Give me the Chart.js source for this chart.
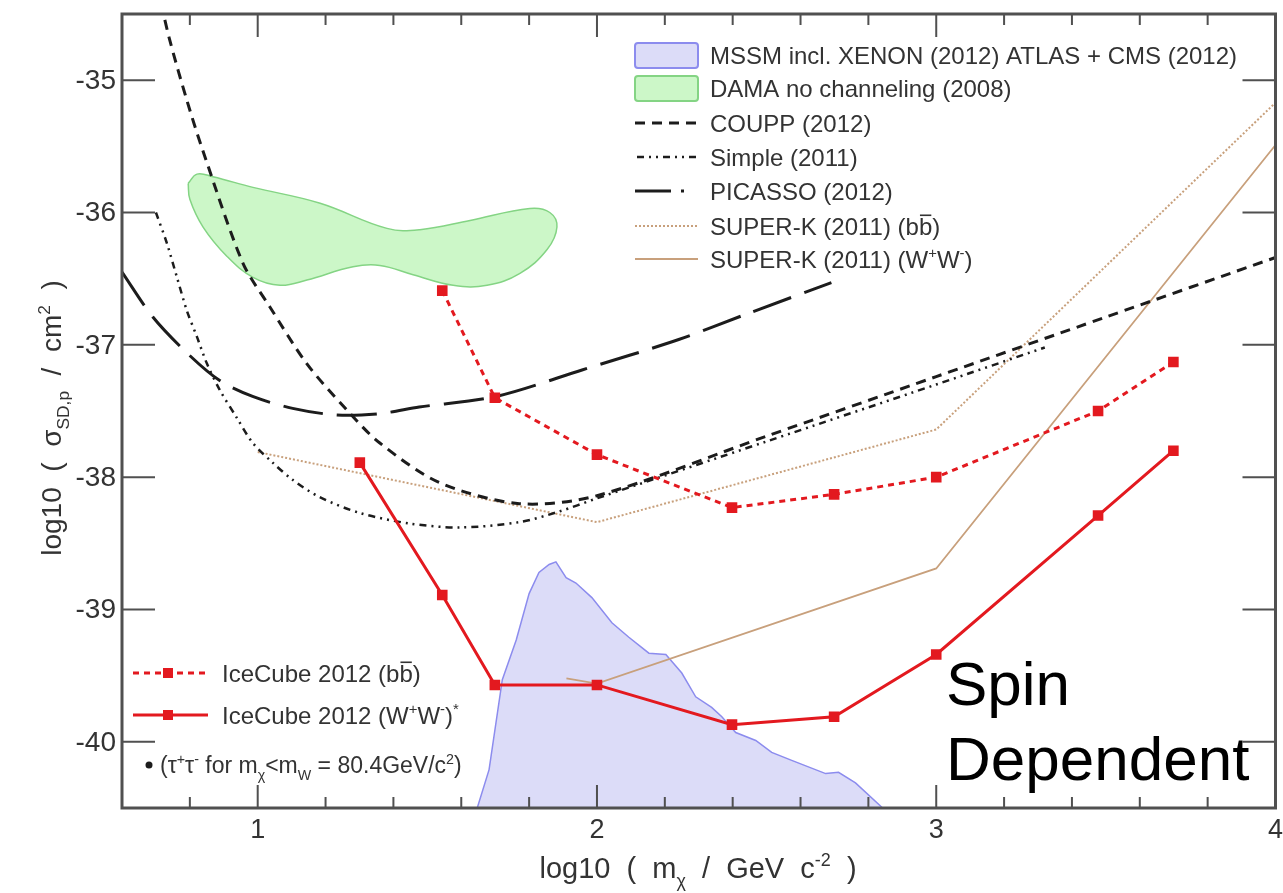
<!DOCTYPE html>
<html>
<head>
<meta charset="utf-8">
<title>Spin dependent WIMP-proton limits</title>
<script src="https://cdn.jsdelivr.net/npm/chart.js@4.4.1/dist/chart.umd.min.js"></script>
<style>
  html, body { margin: 0; background: #fff; }
  canvas { display: block; }
</style>
</head>
<body>
<canvas id="chart" width="1283" height="893"></canvas>
<script>
// axis ticks (log10 mass, log10 cross section)
const xMajorTicks = [1, 2, 3, 4];
const xMinorTicks = [0.8, 1.2, 1.4, 1.6, 1.8, 2.2, 2.4, 2.6, 2.8, 3.2, 3.4, 3.6, 3.8];
const yMajorTicks = [-40, -39, -38, -37, -36, -35];

// IceCube 2012
const iceBbMass = [1.544, 1.699, 2.0, 2.398, 2.699, 3.0, 3.477, 3.699];
const iceBbSigma = [-36.59, -37.40, -37.83, -38.23, -38.13, -38.00, -37.50, -37.13];
const iceWwMass = [1.301, 1.544, 1.699, 2.0, 2.398, 2.699, 3.0, 3.477, 3.699];
const iceWwSigma = [-37.89, -38.89, -39.57, -39.57, -39.87, -39.81, -39.34, -38.29, -37.80];

// direct detection
const couppMass = [0.715, 0.741, 0.791, 0.838, 0.956, 1.035, 1.144, 1.262, 1.359, 1.535, 1.771, 2.0, 2.5, 3.0, 3.5, 4.0];
const couppSigma = [-34.42, -34.70, -35.15, -35.53, -36.38, -36.71, -37.14, -37.49, -37.74, -38.04, -38.20, -38.14, -37.69, -37.24, -36.79, -36.34];
const simpleMass = [0.70, 0.732, 0.762, 0.791, 0.821, 0.85, 0.888, 0.938, 0.985, 1.044, 1.103, 1.182, 1.3, 1.447, 1.594, 1.771, 1.888, 2.0, 2.5, 3.0, 3.32];
const simpleSigma = [-36.00, -36.23, -36.49, -36.74, -36.94, -37.14, -37.34, -37.55, -37.74, -37.89, -38.02, -38.15, -38.27, -38.35, -38.38, -38.34, -38.26, -38.16, -37.73, -37.30, -37.02];
const picassoMass = [0.6, 0.691, 0.791, 0.888, 0.985, 1.103, 1.232, 1.359, 1.476, 1.703, 1.956, 2.241, 2.438, 2.691];
const picassoSigma = [-36.45, -36.79, -37.06, -37.27, -37.39, -37.48, -37.53, -37.52, -37.47, -37.39, -37.19, -36.96, -36.77, -36.53];

// SUPER-K 2011
const skBbMass = [1.0, 2.0, 3.0, 4.0];
const skBbSigma = [-37.81, -38.34, -37.64, -35.17];
const skWwMass = [1.91, 2.0, 3.0, 4.0];
const skWwSigma = [-39.52, -39.56, -38.69, -35.49];

// DAMA contour (closed)
const damaMass = [0.795, 0.821, 0.868, 0.986, 1.184, 1.381, 1.478, 1.626, 1.802, 1.861, 1.882, 1.853, 1.773, 1.676, 1.576, 1.458, 1.360, 1.281, 1.145, 1.066, 0.986, 0.909, 0.839, 0.800, 0.795];
const damaSigma = [-35.78, -35.71, -35.73, -35.81, -35.93, -36.12, -36.13, -36.06, -35.97, -36.00, -36.11, -36.28, -36.46, -36.55, -36.55, -36.47, -36.40, -36.41, -36.51, -36.55, -36.49, -36.33, -36.11, -35.90, -35.78];

// MSSM scan region upper edge
const mssmMass = [1.635, 1.682, 1.721, 1.762, 1.800, 1.829, 1.859, 1.879, 1.909, 1.938, 1.985, 2.044, 2.094, 2.153, 2.203, 2.250, 2.291, 2.338, 2.368, 2.409, 2.468, 2.515, 2.574, 2.674, 2.712, 2.762, 2.838, 2.865];
const mssmSigma = [-40.60, -40.21, -39.53, -39.23, -38.88, -38.72, -38.66, -38.64, -38.76, -38.80, -38.91, -39.10, -39.21, -39.33, -39.34, -39.48, -39.66, -39.74, -39.81, -39.93, -39.99, -40.08, -40.14, -40.24, -40.23, -40.31, -40.49, -40.58];

const pts = (xs, ys) => xs.map((x, i) => ({ x, y: ys[i] }));

const RED = "#e3191f";
const TAN = "#c8a07c";
const INK = "#1c1c1c";
const FONT = '"Liberation Sans", Arial, Helvetica, sans-serif';
const font = (size) => size + "px " + FONT;

const iceWw = { label: "IceCube 2012 (W+W-)", data: pts(iceWwMass, iceWwSigma), borderColor: RED, backgroundColor: RED, borderWidth: 3, pointStyle: "rect", pointRadius: 7.5, pointBorderWidth: 0, order: 0 };
const iceBb = { label: "IceCube 2012 (bb)", data: pts(iceBbMass, iceBbSigma), borderColor: RED, backgroundColor: RED, borderWidth: 3, borderDash: [6, 5], pointStyle: "rect", pointRadius: 7.5, pointBorderWidth: 0, order: 1 };
const coupp = { label: "COUPP (2012)", data: pts(couppMass, couppSigma), borderColor: INK, borderWidth: 3, borderDash: [10, 7], tension: 0.3, pointRadius: 0, order: 3 };
const simple = { label: "Simple (2011)", data: pts(simpleMass, simpleSigma), borderColor: INK, borderWidth: 2.5, borderDash: [7, 5, 2, 5, 2, 5], tension: 0.3, pointRadius: 0, order: 4 };
const picasso = { label: "PICASSO (2012)", data: pts(picassoMass, picassoSigma), borderColor: INK, borderWidth: 3, borderDash: [40, 14], tension: 0.3, pointRadius: 0, order: 2 };
const skBb = { label: "SUPER-K (2011) (bb)", data: pts(skBbMass, skBbSigma), borderColor: TAN, borderWidth: 2, borderDash: [2, 2], pointRadius: 0, order: 5 };
const skWw = { label: "SUPER-K (2011) (W+W-)", data: pts(skWwMass, skWwSigma), borderColor: TAN, borderWidth: 1.8, pointRadius: 0, order: 6 };
const dama = { label: "DAMA no channeling (2008)", data: pts(damaMass, damaSigma), borderColor: "#84d484", backgroundColor: "#ccf7c8", borderWidth: 1.5, fill: "shape", tension: 0.4, pointRadius: 0, order: 8 };
const mssm = { label: "MSSM incl. XENON (2012) ATLAS + CMS (2012)", data: pts(mssmMass, mssmSigma), borderColor: "#8c8cee", backgroundColor: "#dcdcf8", borderWidth: 1.5, fill: "start", pointRadius: 0, order: 9 };

// text with sub/superscripts and overbars: parts = [[text, kind]]
function drawRich(ctx, parts, x, y, size, align) {
  const pieces = parts.map(([t, kind]) => {
    const s = kind === "sub" || kind === "sup" ? size * 0.62 : size;
    ctx.font = font(s);
    return { t, kind, s, w: ctx.measureText(t).width };
  });
  const total = pieces.reduce((a, p) => a + p.w, 0);
  let cx = align === "center" ? x - total / 2 : align === "right" ? x - total : x;
  ctx.textAlign = "left";
  ctx.textBaseline = "alphabetic";
  pieces.forEach((p) => {
    ctx.font = font(p.s);
    const dy = p.kind === "sub" ? size * 0.3 : p.kind === "sup" ? -size * 0.4 : 0;
    ctx.fillText(p.t, cx, y + dy);
    if (p.kind === "bar") ctx.fillRect(cx + 1, y - size * 0.84, p.w - 2, 1.6);
    cx += p.w;
  });
  return total;
}

function strokeSample(ctx, ds, x0, x1, y) {
  ctx.save();
  ctx.strokeStyle = ds.borderColor;
  ctx.lineWidth = ds.borderWidth;
  ctx.setLineDash(ds.borderDash || []);
  ctx.beginPath();
  ctx.moveTo(x0, y);
  ctx.lineTo(x1, y);
  ctx.stroke();
  ctx.restore();
}

const decorations = {
  id: "decorations",
  afterDatasetsDraw(chart) {
    const { ctx, chartArea: a, scales } = chart;
    const sx = scales.x, sy = scales.y;
    ctx.save();

    // frame and inward ticks
    ctx.strokeStyle = "#505050";
    ctx.lineWidth = 2;
    ctx.beginPath();
    xMajorTicks.forEach((v) => {
      const px = sx.getPixelForValue(v);
      ctx.moveTo(px, a.bottom); ctx.lineTo(px, a.bottom - 23);
      ctx.moveTo(px, a.top); ctx.lineTo(px, a.top + 23);
    });
    xMinorTicks.forEach((v) => {
      const px = sx.getPixelForValue(v);
      ctx.moveTo(px, a.bottom); ctx.lineTo(px, a.bottom - 11);
      ctx.moveTo(px, a.top); ctx.lineTo(px, a.top + 11);
    });
    yMajorTicks.forEach((v) => {
      const py = sy.getPixelForValue(v);
      ctx.moveTo(a.left, py); ctx.lineTo(a.left + 33, py);
      ctx.moveTo(a.right, py); ctx.lineTo(a.right - 33, py);
    });
    ctx.stroke();
    ctx.lineWidth = 3;
    ctx.strokeRect(a.left, a.top, a.right - a.left, a.bottom - a.top);

    // tick labels
    ctx.fillStyle = "#333";
    ctx.font = font(28);
    ctx.textAlign = "right";
    ctx.textBaseline = "middle";
    yMajorTicks.forEach((v) => ctx.fillText(String(v), a.left - 6, sy.getPixelForValue(v) + 1));
    ctx.font = font(27);
    ctx.textAlign = "center";
    ctx.textBaseline = "top";
    xMajorTicks.forEach((v) => ctx.fillText(String(v), sx.getPixelForValue(v), a.bottom + 9));

    // axis titles
    drawRich(ctx, [["log10  (  m", ""], ["χ", "sub"], ["  /  GeV  c", ""], ["-2", "sup"], ["  )", ""]], 698, 878, 29, "center");
    ctx.save();
    ctx.translate(61, 418);
    ctx.rotate(-Math.PI / 2);
    drawRich(ctx, [["log10  (  σ", ""], ["SD,p", "sub"], ["  /  cm", ""], ["2", "sup"], ["  )", ""]], 0, 0, 28, "center");
    ctx.restore();

    // legend, top right
    const lx0 = 635, lx1 = 698, tx = 710, ls = 24;
    const boxes = [[mssm, 55], [dama, 88]];
    boxes.forEach(([ds, y]) => {
      ctx.fillStyle = ds.backgroundColor;
      ctx.strokeStyle = ds.borderColor;
      ctx.lineWidth = 2;
      ctx.beginPath();
      ctx.roundRect(lx0, y - 12, lx1 - lx0, 25, 3);
      ctx.fill();
      ctx.stroke();
    });
    strokeSample(ctx, coupp, lx0, lx1, 123);
    strokeSample(ctx, simple, lx0 + 2, lx1, 157);
    strokeSample(ctx, { borderColor: INK, borderWidth: 3 }, lx0, lx0 + 36, 191);
    ctx.fillStyle = INK;
    ctx.fillRect(lx0 + 46, 189.5, 3, 3);
    strokeSample(ctx, skBb, lx0, lx1, 226);
    strokeSample(ctx, skWw, lx0, lx1, 259);

    ctx.fillStyle = "#333";
    const off = ls * 0.36;
    drawRich(ctx, [[mssm.label, ""]], tx, 55 + off, ls);
    drawRich(ctx, [[dama.label, ""]], tx, 88 + off, ls);
    drawRich(ctx, [["COUPP (2012)", ""]], tx, 123 + off, ls);
    drawRich(ctx, [["Simple (2011)", ""]], tx, 157 + off, ls);
    drawRich(ctx, [["PICASSO (2012)", ""]], tx, 191 + off, ls);
    drawRich(ctx, [["SUPER-K (2011) (b", ""], ["b", "bar"], [")", ""]], tx, 226 + off, ls);
    drawRich(ctx, [["SUPER-K (2011) (W", ""], ["+", "sup"], ["W", ""], ["-", "sup"], [")", ""]], tx, 259 + off, ls);

    // legend, bottom left
    [[iceBb, 673], [iceWw, 715]].forEach(([ds, y]) => {
      strokeSample(ctx, ds, 133, 208, y);
      ctx.fillStyle = RED;
      ctx.fillRect(163, y - 5, 10, 10);
    });
    ctx.fillStyle = "#333";
    drawRich(ctx, [["IceCube 2012 (b", ""], ["b", "bar"], [")", ""]], 222, 673 + off, ls);
    drawRich(ctx, [["IceCube 2012 (W", ""], ["+", "sup"], ["W", ""], ["-", "sup"], [")", ""], ["*", "sup"]], 222, 715 + off, ls);
    ctx.fillStyle = INK;
    ctx.beginPath();
    ctx.arc(149, 765, 3.5, 0, Math.PI * 2);
    ctx.fill();
    ctx.fillStyle = "#333";
    drawRich(ctx, [["(τ", ""], ["+", "sup"], ["τ", ""], ["-", "sup"], [" for m", ""], ["χ", "sub"], ["<m", ""], ["W", "sub"], [" = 80.4GeV/c", ""], ["2", "sup"], [")", ""]], 160, 773, 23);

    // annotation
    ctx.fillStyle = "#000";
    ctx.font = font(62);
    ctx.textAlign = "left";
    ctx.textBaseline = "alphabetic";
    ctx.fillText("Spin", 946, 705);
    ctx.fillText("Dependent", 946, 780);
    ctx.restore();
  }
};

new Chart(document.getElementById("chart"), {
  type: "line",
  data: { datasets: [iceWw, iceBb, picasso, coupp, simple, skBb, skWw, dama, mssm] },
  options: {
    responsive: false,
    animation: false,
    events: [],
    layout: { padding: { top: 14, right: 5, left: 0, bottom: 0 } },
    plugins: { legend: { display: false }, tooltip: { enabled: false } },
    scales: {
      x: {
        type: "linear", min: 0.6, max: 4,
        grid: { display: false, drawTicks: false },
        border: { display: false },
        ticks: { display: false },
        afterFit: (s) => { s.height = 85; }
      },
      y: {
        type: "linear", min: -40.5, max: -34.5,
        grid: { display: false, drawTicks: false },
        border: { display: false },
        ticks: { display: false },
        afterFit: (s) => { s.width = 122; }
      }
    }
  },
  plugins: [decorations]
});
</script>
</body>
</html>
